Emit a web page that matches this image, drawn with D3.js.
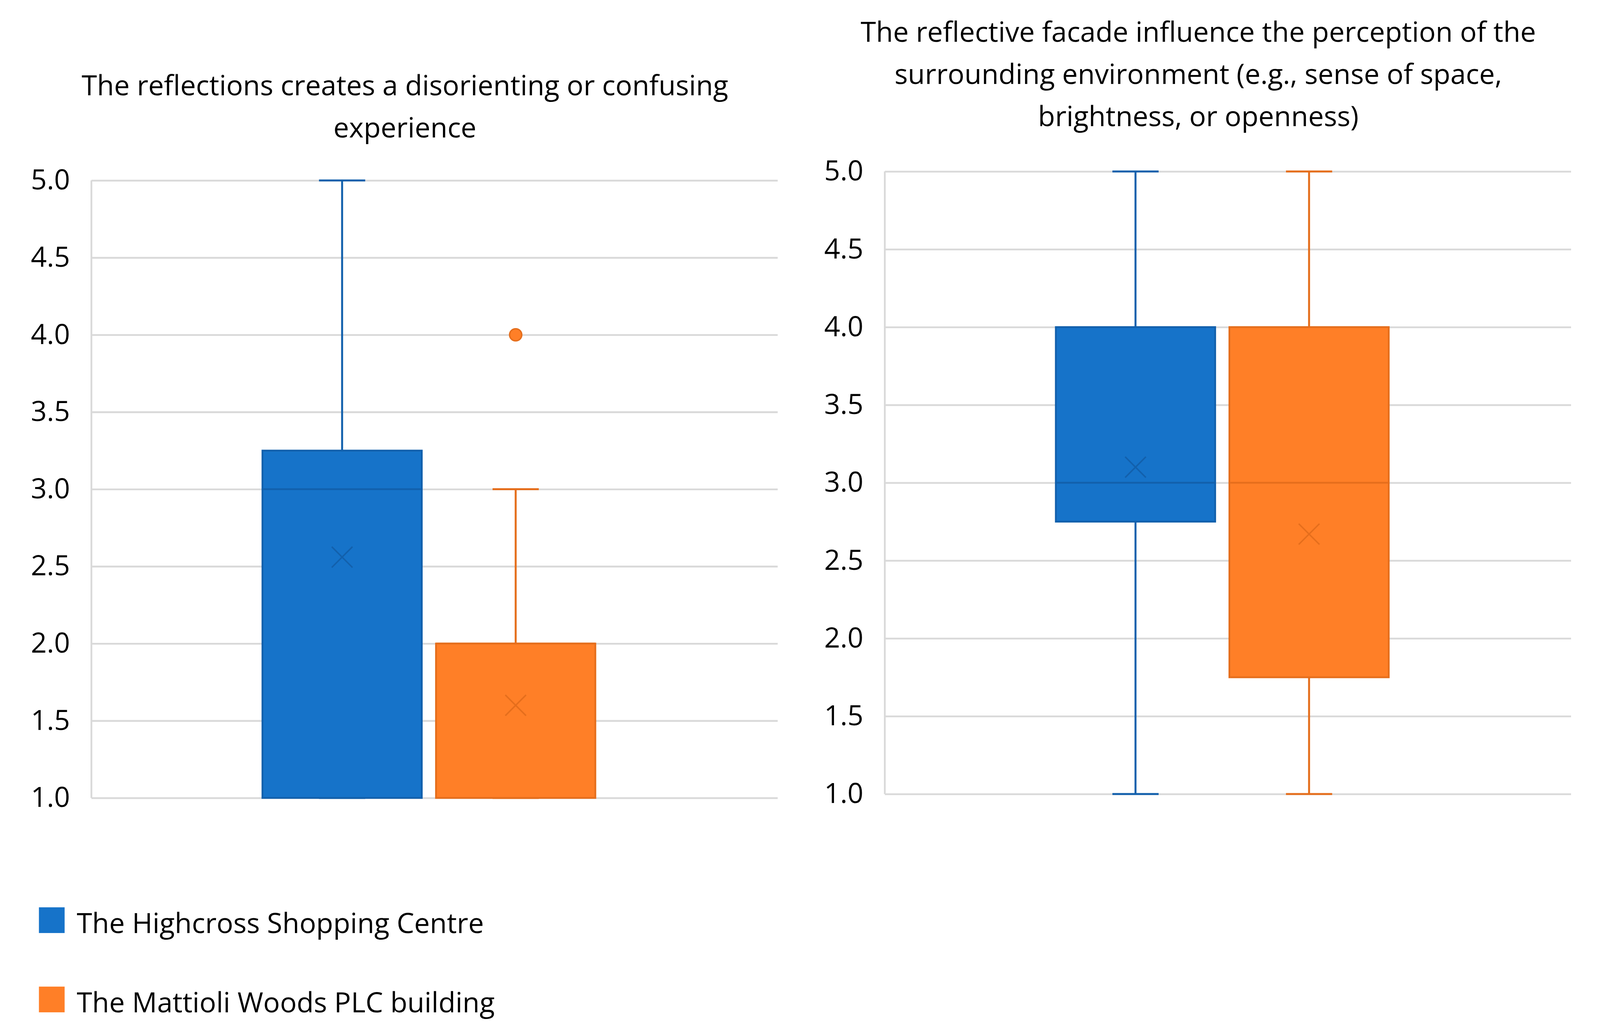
<!DOCTYPE html>
<html>
<head>
<meta charset="utf-8">
<script src="https://cdn.jsdelivr.net/npm/d3@7"></script>
<style>
  html, body { margin: 0; padding: 0; background: #fff; overflow: hidden; }
  svg { display: block; font-family: "Open Sans", "Noto Sans", sans-serif; }
</style>
</head>
<body>
<svg id="chart"></svg>
<script>
// ---- data ----
var seriesNames = ["The Highcross Shopping Centre", "The Mattioli Woods PLC building"];
var seriesColors = ["#1673C9", "#FF7F27"];
var seriesStrokes = ["#1260AC", "#E56E1C"];

var yTicks = [1.0, 1.5, 2.0, 2.5, 3.0, 3.5, 4.0, 4.5, 5.0];

// left chart: five-number summary + mean + outliers, per series
var leftTitle = ["The reflections creates a disorienting or confusing", "experience"];
var leftMin = [1, 1];
var leftQ1 = [1, 1];
var leftMedian = [3, 2];
var leftQ3 = [3.25, 2];
var leftMax = [5, 3];
var leftMean = [2.56, 1.6];
var leftOutliers = [[], [4]];

// right chart
var rightTitle = ["The reflective facade influence the perception of the",
                  "surrounding environment (e.g., sense of space,",
                  "brightness, or openness)"];
var rightMin = [1, 1];
var rightQ1 = [2.75, 1.75];
var rightMedian = [3, 3];
var rightQ3 = [4, 4];
var rightMax = [5, 5];
var rightMean = [3.1, 2.67];
var rightOutliers = [[], []];

// layout is laid out on a 4481 x 2650 frame and fitted to the window
var W = window.innerWidth || 4481,
    H = window.innerHeight || 2650,
    sx = W / 4481,
    sy = H / 2650,
    sf = Math.min(sx, sy);

var svg = d3.select("#chart")
    .attr("width", W)
    .attr("height", H);

function drawBoxChart(opts) {
    var width = opts.width * sx, height = opts.height * sy;
    var g = svg.append("g")
        .attr("transform", "translate(" + (opts.left * sx) + "," + (opts.top * sy) + ")");

    var y = d3.scaleLinear().domain([1, 5]).range([height, 0]);
    var x = d3.scaleBand().domain(seriesNames).range([0, width])
        .paddingInner(0.082).paddingOuter(1.018).align(0.484);

    var lw = 5 * sf;

    // gridlines
    g.append("g")
        .attr("class", "grid")
        .call(d3.axisLeft(y).tickValues(yTicks).tickSize(-width).tickFormat(""))
        .call(function (a) { a.select(".domain").remove(); })
        .selectAll("line")
        .attr("stroke", "#D9D9D9")
        .attr("stroke-width", lw);

    // vertical axis line
    g.append("line")
        .attr("x1", 0).attr("x2", 0)
        .attr("y1", y(5)).attr("y2", y(1))
        .attr("stroke", "#D9D9D9")
        .attr("stroke-width", lw);

    // tick labels
    g.append("g")
        .attr("class", "axis axis--y")
        .call(d3.axisLeft(y).tickValues(yTicks).tickSize(0).tickPadding(60 * sx).tickFormat(d3.format(".1f")))
        .call(function (a) { a.select(".domain").remove(); })
        .selectAll("text")
        .attr("fill", "#000")
        .attr("font-size", 78 * sf)
        .attr("font-family", "'Open Sans', sans-serif");

    var bw = x.bandwidth(), capW = bw * 0.29;

    seriesNames.forEach(function (name, i) {
        var cx = x(name) + bw / 2;
        var s = seriesStrokes[i];

        // whiskers
        g.append("line")
            .attr("x1", cx).attr("x2", cx)
            .attr("y1", y(opts.q3[i])).attr("y2", y(opts.max[i]))
            .attr("stroke", s).attr("stroke-width", lw * 1.1);
        g.append("line")
            .attr("x1", cx - capW / 2).attr("x2", cx + capW / 2)
            .attr("y1", y(opts.max[i])).attr("y2", y(opts.max[i]))
            .attr("stroke", s).attr("stroke-width", lw * 1.1);
        g.append("line")
            .attr("x1", cx).attr("x2", cx)
            .attr("y1", y(opts.q1[i])).attr("y2", y(opts.min[i]))
            .attr("stroke", s).attr("stroke-width", lw * 1.1);
        g.append("line")
            .attr("x1", cx - capW / 2).attr("x2", cx + capW / 2)
            .attr("y1", y(opts.min[i])).attr("y2", y(opts.min[i]))
            .attr("stroke", s).attr("stroke-width", lw * 1.1);

        // box
        g.append("rect")
            .attr("x", x(name))
            .attr("y", y(opts.q3[i]))
            .attr("width", bw)
            .attr("height", y(opts.q1[i]) - y(opts.q3[i]))
            .attr("fill", seriesColors[i])
            .attr("stroke", s)
            .attr("stroke-width", lw);

        // median
        g.append("line")
            .attr("x1", x(name)).attr("x2", x(name) + bw)
            .attr("y1", y(opts.median[i])).attr("y2", y(opts.median[i]))
            .attr("stroke", s).attr("stroke-width", lw);

        // mean marker (x)
        var my = y(opts.mean[i]), r = 29 * sf;
        g.append("path")
            .attr("d", "M" + (cx - r) + "," + (my - r) + "L" + (cx + r) + "," + (my + r) +
                       "M" + (cx + r) + "," + (my - r) + "L" + (cx - r) + "," + (my + r))
            .attr("stroke", s)
            .attr("stroke-width", 4 * sf)
            .attr("fill", "none");

        // outliers
        g.selectAll(".outlier-" + i)
            .data(opts.outliers[i])
            .enter()
            .append("circle")
            .attr("class", "outlier-" + i)
            .attr("cx", cx)
            .attr("cy", function (d) { return y(d); })
            .attr("r", 17 * sf)
            .attr("fill", seriesColors[i])
            .attr("stroke", s)
            .attr("stroke-width", 4 * sf);
    });

    // title
    svg.append("text")
        .attr("text-anchor", "middle")
        .attr("font-size", 78 * sf)
        .attr("fill", "#000")
        .selectAll("tspan")
        .data(opts.title)
        .enter()
        .append("tspan")
        .attr("x", opts.titleX * sx)
        .attr("y", function (d, k) { return (opts.titleY + k * 108) * sy; })
        .text(function (d) { return d; });
}

drawBoxChart({
    left: 256, top: 462, width: 1922, height: 1581,
    title: leftTitle, titleX: 1134, titleY: 244,
    min: leftMin, q1: leftQ1, median: leftMedian, q3: leftQ3, max: leftMax,
    mean: leftMean, outliers: leftOutliers
});

drawBoxChart({
    left: 2478, top: 439, width: 1922, height: 1594,
    title: rightTitle, titleX: 3356, titleY: 107,
    min: rightMin, q1: rightQ1, median: rightMedian, q3: rightQ3, max: rightMax,
    mean: rightMean, outliers: rightOutliers
});

// legend
var legend = svg.append("g").attr("class", "legend");
var legendY = d3.scalePoint().domain(seriesNames).range([2356 * sy, 2559 * sy]);
var sw = 72 * sf;
seriesNames.forEach(function (name, i) {
    legend.append("rect")
        .attr("x", 109 * sx)
        .attr("y", legendY(name) - sw / 2)
        .attr("width", sw)
        .attr("height", sw)
        .attr("fill", seriesColors[i]);
    legend.append("text")
        .attr("x", 215 * sx)
        .attr("y", legendY(name) + 33 * sy)
        .attr("font-size", 78 * sf)
        .attr("fill", "#000")
        .text(name);
});
</script>
</body>
</html>
